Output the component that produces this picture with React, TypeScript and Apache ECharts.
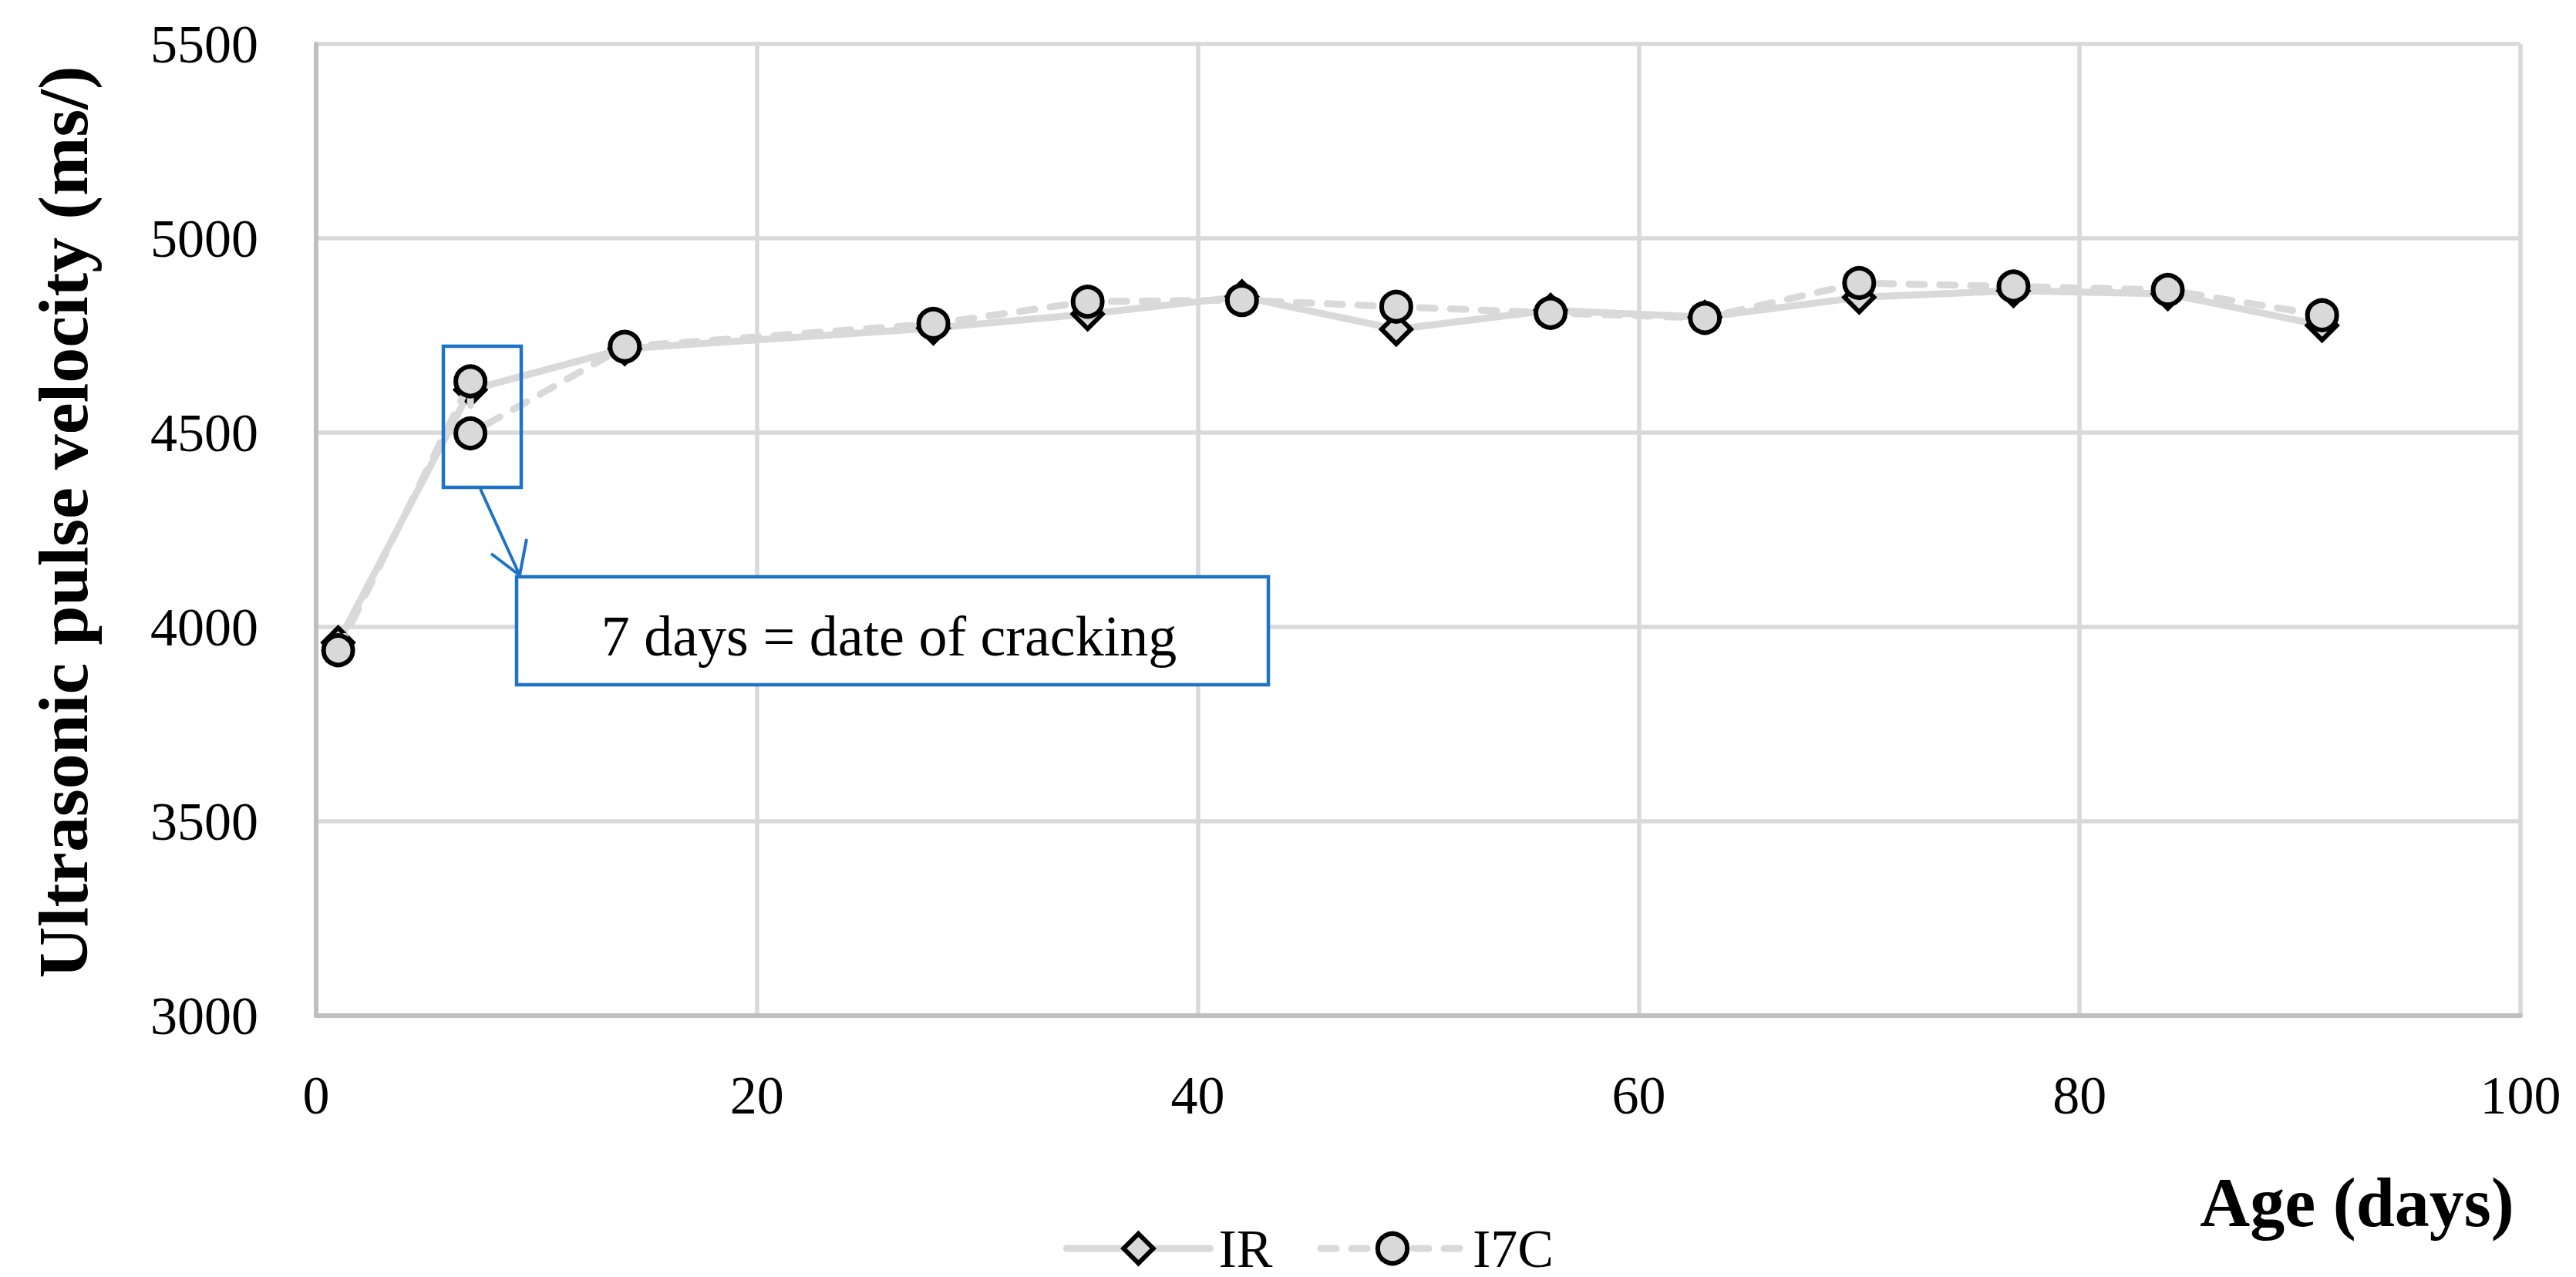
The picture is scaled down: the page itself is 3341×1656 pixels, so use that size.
import React, { useEffect, useRef } from "react";
import * as echarts from "echarts";

// ---- data ----
const irDays = [1, 7, 14, 28, 35, 42, 49, 56, 63, 70, 77, 84, 91];
const irValues = [3960, 4610, 4716, 4769, 4805, 4850, 4766, 4815, 4797, 4848, 4865, 4857, 4776];
const i7cDays = [1, 7, 7, 14, 28, 35, 42, 49, 56, 63, 70, 77, 84, 91];
const i7cValues = [3940, 4632, 4498, 4721, 4780, 4837, 4841, 4824, 4808, 4795, 4885, 4876, 4867, 4802];
const seriesNames = ["IR", "I7C"];
const xMin = 0;
const xMax = 100;
const xStep = 20;
const yMin = 3000;
const yMax = 5500;
const yStep = 500;
const yTitle = "Ultrasonic pulse velocity (ms/)";
const xTitle = "Age (days)";
const noteText = "7 days = date of cracking";

const FONT = '"Liberation Serif", "Times New Roman", serif';
const GRAY = "#d9d9d9";
const BLUE = "#1e73c6";

export default function App() {
  const ref = useRef<HTMLDivElement>(null);
  useEffect(() => {
    document.body.style.margin = "0";
    const chart = echarts.init(ref.current!, null, { renderer: "svg" });
    const irData = irDays.map((d, i) => [d, irValues[i]]);
    const i7cData = i7cDays.map((d, i) => [d, i7cValues[i]]);
    chart.setOption({
      animation: false,
      backgroundColor: "#fff",
      grid: { left: 410, right: 72, top: 57, bottom: 339, containLabel: false },
      xAxis: {
        type: "value",
        min: xMin,
        max: xMax,
        interval: xStep,
        axisLine: { show: true, lineStyle: { color: "#bfbfbf", width: 6 } },
        axisTick: { show: false },
        axisLabel: { color: "#000", fontSize: 70, fontFamily: FONT, margin: 68, formatter: (v: number) => String(v) },
        splitLine: { show: true, lineStyle: { color: GRAY, width: 5.5 } },
      },
      yAxis: {
        type: "value",
        min: yMin,
        max: yMax,
        interval: yStep,
        axisLine: { show: true, lineStyle: { color: "#bfbfbf", width: 6 } },
        axisTick: { show: false },
        axisLabel: { color: "#000", fontSize: 70, fontFamily: FONT, margin: 75, formatter: (v: number) => String(v) },
        splitLine: { show: true, lineStyle: { color: GRAY, width: 5.5 } },
      },
      legend: {
        left: 1374,
        top: 1579,
        itemWidth: 186,
        itemHeight: 48,
        itemGap: 58,
        data: seriesNames,
        textStyle: { color: "#000", fontSize: 70, fontFamily: FONT, padding: [0, 0, 0, 6] },
        lineStyle: { width: 9, cap: "round" },
        itemStyle: { color: GRAY, borderColor: "#000", borderWidth: 6 },
      },
      series: [
        {
          name: seriesNames[0],
          type: "line",
          data: irData,
          symbol: "diamond",
          symbolSize: 38,
          lineStyle: { color: GRAY, width: 9, cap: "round", join: "round" },
          itemStyle: { color: GRAY, borderColor: "#000", borderWidth: 6 },
          z: 2,
        },
        {
          name: seriesNames[1],
          type: "line",
          data: i7cData,
          symbol: "circle",
          symbolSize: 38,
          lineStyle: { color: GRAY, width: 9, type: [20, 20], cap: "round", join: "round" },
          itemStyle: { color: GRAY, borderColor: "#000", borderWidth: 6 },
          z: 3,
        },
      ],
      graphic: [
        {
          type: "text",
          x: 82,
          y: 677,
          rotation: Math.PI / 2,
          style: {
            text: yTitle,
            fontSize: 92,
            fontWeight: "bold",
            fontFamily: FONT,
            fill: "#000",
            align: "center",
            verticalAlign: "middle",
          },
        },
        {
          type: "text",
          x: 3057,
          y: 1559,
          style: {
            text: xTitle,
            fontSize: 90,
            fontWeight: "bold",
            fontFamily: FONT,
            fill: "#000",
            align: "center",
            verticalAlign: "middle",
          },
        },
        {
          type: "rect",
          shape: { x: 575, y: 449, width: 101, height: 183 },
          style: { fill: "none", stroke: BLUE, lineWidth: 4.5 },
          z: 100,
        },
        {
          type: "line",
          shape: { x1: 623, y1: 634, x2: 674, y2: 746 },
          style: { stroke: BLUE, lineWidth: 4 },
          z: 100,
        },
        {
          type: "polyline",
          shape: { points: [[637, 718], [674, 746], [683, 699]] },
          style: { stroke: BLUE, lineWidth: 4, fill: "none" },
          z: 100,
        },
        {
          type: "rect",
          shape: { x: 670, y: 748, width: 975, height: 140 },
          style: { fill: "#fff", stroke: BLUE, lineWidth: 4.5 },
          z: 100,
        },
        {
          type: "text",
          x: 1153,
          y: 825,
          style: {
            text: noteText,
            fontSize: 74,
            fontFamily: FONT,
            fill: "#000",
            align: "center",
            verticalAlign: "middle",
          },
          z: 101,
        },
      ],
    });
    return () => chart.dispose();
  }, []);
  return (
    <div
      ref={ref}
      style={{ position: "fixed", left: 0, top: 0, width: 3341, height: 1656, background: "#fff" }}
    />
  );
}
